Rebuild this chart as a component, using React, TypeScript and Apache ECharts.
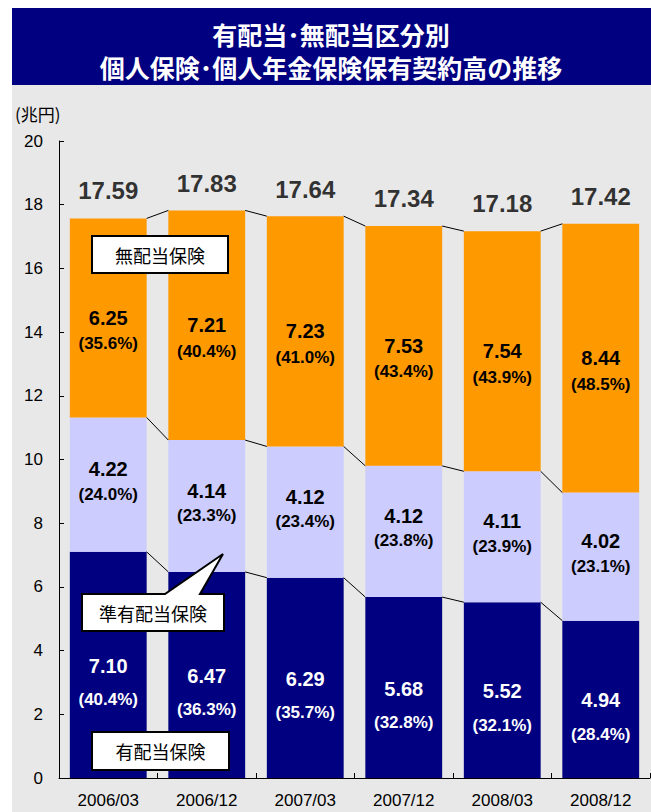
import React, { useEffect, useRef } from "react";
import * as echarts from "echarts";

const categories = ["2006/03", "2006/12", "2007/03", "2007/12", "2008/03", "2008/12"];
const participating = [7.10, 6.47, 6.29, 5.68, 5.52, 4.94];
const participatingPct = ["40.4", "36.3", "35.7", "32.8", "32.1", "28.4"];
const semiParticipating = [4.22, 4.14, 4.12, 4.12, 4.11, 4.02];
const semiPct = ["24.0", "23.3", "23.4", "23.8", "23.9", "23.1"];
const nonParticipating = [6.25, 7.21, 7.23, 7.53, 7.54, 8.44];
const nonPct = ["35.6", "40.4", "41.0", "43.4", "43.9", "48.5"];
const totals = [17.59, 17.83, 17.64, 17.34, 17.18, 17.42];

const titleLines = ["有配当･無配当区分別", "個人保険･個人年金保険保有契約高の推移"];
const unitLabel = "(兆円)";
const seriesNames = ["有配当保険", "準有配当保険", "無配当保険"];

const FONT = "'Liberation Sans', Arial, sans-serif";
const CJK = "'Noto Sans CJK JP', 'Noto Sans', sans-serif";

function buildConnectors() {
  const c1 = participating.map((v) => v);
  const c2 = participating.map((v, i) => v + semiParticipating[i]);
  const c3 = c2.map((v, i) => v + nonParticipating[i]);
  const out: number[][] = [];
  for (let i = 0; i < categories.length - 1; i++) {
    [c1, c2, c3].forEach((c) => out.push([i, c[i], c[i + 1]]));
  }
  return out;
}

export default function App() {
  const ref = useRef<HTMLDivElement>(null);
  useEffect(() => {
    if (!ref.current) return;
    const chart = echarts.init(ref.current, undefined, { renderer: "svg" });

    const labelFor = (pcts: string[], color: string, gap: number, offsetY: number) => ({
      show: true,
      position: "inside",
      offset: [0, offsetY],
      formatter: (p: any) => `{v|${Number(p.value).toFixed(2)}}\n{p|(${pcts[p.dataIndex]}%)}`,
      rich: {
        v: { fontFamily: FONT, fontWeight: "bold", fontSize: 20, color, lineHeight: gap },
        p: { fontFamily: FONT, fontWeight: "bold", fontSize: 17, color, lineHeight: gap },
      },
    });

    const Z = 100;
    const calloutBox = (x: number, y: number, w: number, h: number, text: string) => [
      { type: "rect", z: Z, shape: { x, y, width: w, height: h }, style: { fill: "#fff", stroke: "#000", lineWidth: 2 } },
      {
        type: "text", z: Z + 1,
        x: x + w / 2,
        y: y + h / 2,
        style: { text, fontFamily: CJK, fontSize: 18, fill: "#000", align: "center", verticalAlign: "middle" },
      },
    ];

    const titleText = (text: string, y: number) => ({
      type: "text", z: 10, x: 331, y,
      style: {
        text, fontFamily: CJK, fontWeight: "bold", fontSize: 25,
        fill: "#fff", align: "center", verticalAlign: "middle",
      },
    });

    chart.setOption({
      animation: false,
      graphic: [
        { type: "rect", z: -10, silent: true, shape: { x: 12, y: 85, width: 639, height: 727 }, style: { fill: "#e8e8e8" } },
        { type: "rect", z: -10, silent: true, shape: { x: 12, y: 8, width: 639, height: 77 }, style: { fill: "#000080" } },
        titleText(titleLines[0], 34),
        titleText(titleLines[1], 67),
        {
          type: "text", z: 10, x: 15, y: 113,
          style: { text: unitLabel, fontFamily: CJK, fontSize: 17, fill: "#000", align: "left", verticalAlign: "middle" },
        },
        ...calloutBox(92, 236, 136, 37, seriesNames[2]),
        {
          type: "polygon", z: Z,
          shape: { points: [[82, 594], [165, 594], [223, 554], [200, 594], [224, 594], [224, 631], [82, 631]] },
          style: { fill: "#fff", stroke: "#000", lineWidth: 2 },
        },
        {
          type: "text", z: Z + 1, x: 153, y: 613,
          style: { text: seriesNames[1], fontFamily: CJK, fontSize: 18, fill: "#000", align: "center", verticalAlign: "middle" },
        },
        ...calloutBox(92, 732, 137, 38, seriesNames[0]),
      ],
      grid: { left: 59, right: 1, top: 141, bottom: 34 },
      xAxis: {
        type: "category",
        data: categories,
        axisLine: { lineStyle: { color: "#000", width: 1 } },
        axisTick: { show: true, inside: true, length: 5, lineStyle: { color: "#000" } },
        axisLabel: { fontFamily: FONT, fontSize: 17, color: "#000", margin: 14 },
      },
      yAxis: {
        type: "value",
        min: 0,
        max: 20,
        interval: 2,
        splitLine: { show: false },
        axisLine: { show: true, lineStyle: { color: "#000", width: 1 } },
        axisTick: { show: true, inside: true, length: 5, lineStyle: { color: "#000" } },
        axisLabel: { fontFamily: FONT, fontSize: 17, color: "#000", margin: 16 },
      },
      series: [
        {
          name: seriesNames[0], type: "bar", stack: "s", barWidth: "78%", data: participating,
          itemStyle: { color: "#000080" },
          label: labelFor(participatingPct, "#fff", 34, 18),
        },
        {
          name: seriesNames[1], type: "bar", stack: "s", data: semiParticipating,
          itemStyle: { color: "#ccccff" },
          label: labelFor(semiPct, "#000", 25, -3),
        },
        {
          name: seriesNames[2], type: "bar", stack: "s", data: nonParticipating,
          itemStyle: { color: "#ff9900" },
          label: labelFor(nonPct, "#000", 26, 13),
        },
        {
          type: "scatter",
          data: totals,
          symbolSize: 0,
          itemStyle: { color: "#000" },
          label: {
            show: true, position: "top", distance: 15,
            formatter: (p: any) => Number(p.value).toFixed(2),
            fontFamily: FONT, fontWeight: "bold", fontSize: 24, color: "#000",
          },
          z: 5,
        },
        {
          type: "custom",
          data: buildConnectors(),
          encode: { x: 0, y: 1 },
          z: 4,
          renderItem: (params: any, api: any) => {
            const i = api.value(0);
            const a = api.coord([i, api.value(1)]);
            const b = api.coord([i + 1, api.value(2)]);
            const half = api.size([1, 0])[0] * 0.39;
            return {
              type: "line",
              shape: { x1: a[0] + half, y1: a[1], x2: b[0] - half, y2: b[1] },
              style: { stroke: "#000", lineWidth: 1 },
            };
          },
        },
      ],
    });
    return () => chart.dispose();
  }, []);

  return (
    <div
      ref={ref}
      style={{ position: "absolute", left: 0, top: 0, width: 651, height: 812, background: "#fff" }}
    />
  );
}
